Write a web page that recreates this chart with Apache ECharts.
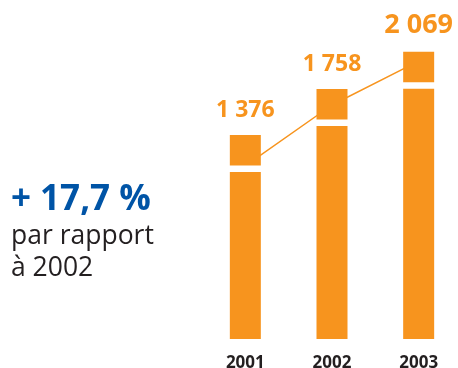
<!DOCTYPE html>
<html>
<head>
<meta charset="utf-8">
<style>
  html, body { margin: 0; padding: 0; background: #fff; }
  #chart { width: 458px; height: 368px; }
</style>
<script src="https://cdn.jsdelivr.net/npm/echarts@6/dist/echarts.min.js"></script>
</head>
<body>
<div id="chart"></div>
<script>
// Yearly totals
const years = ['2001', '2002', '2003'];
const totals = [1376, 1758, 2069];
// Trend line drawn behind the bars
const trend = [1117, 1625, 1991];
// Part of each column below the axis break
const axisBase = 325;

const ORANGE = '#F7941E';
const BLUE = '#0054A6';
const DARK = '#231F20';
const FONT = '"Open Sans", "Noto Sans", sans-serif';

const fmt = v => String(v).replace(/\B(?=(\d{3})+(?!\d))/g, ' ');

const chart = echarts.init(document.getElementById('chart'), null, { renderer: 'canvas' });

const colStyle = { color: ORANGE };

chart.setOption({
  animation: false,
  title: {
    left: 11,
    top: 180,
    padding: 0,
    text: '{a|+ 17,7 %}\n{b|par rapport}\n{b|à 2002}',
    textStyle: {
      rich: {
        a: { fontFamily: FONT, fontWeight: 700, fontSize: 35, color: BLUE, lineHeight: 40 },
        b: { fontFamily: FONT, fontWeight: 400, fontSize: 26.5, color: DARK, lineHeight: 32 }
      }
    }
  },
  grid: {
    left: 202, width: 260, top: 39, height: 300,
    containLabel: false,
    outerBoundsMode: 'none'
  },
  xAxis: {
    type: 'category',
    data: years,
    axisLine: { show: false },
    axisTick: { show: false },
    axisLabel: {
      margin: 16,
      fontFamily: FONT,
      fontWeight: 700,
      fontSize: 17,
      color: DARK
    }
  },
  yAxis: {
    type: 'value',
    min: 0,
    max: 2500,
    show: false,
    splitLine: { show: false }
  },
  series: [
    {
      name: 'trend',
      type: 'line',
      data: trend.map(v => v + axisBase),
      symbol: 'none',
      lineStyle: { color: ORANGE, width: 1.5 },
      z: 1
    },
    {
      name: 'base',
      type: 'bar',
      stack: 'col',
      barWidth: 31,
      data: years.map(() => axisBase),
      itemStyle: colStyle,
      z: 2
    },
    {
      name: 'total',
      type: 'bar',
      stack: 'col',
      barWidth: 31,
      data: totals,
      itemStyle: colStyle,
      z: 2,
      label: {
        show: true,
        position: 'top',
        distance: 13,
        formatter: p => (p.dataIndex === totals.length - 1 ? '{big|' : '{n|') + fmt(p.value) + '}',
        rich: {
          n: { fontFamily: FONT, fontWeight: 700, fontSize: 23, color: ORANGE },
          big: { fontFamily: FONT, fontWeight: 700, fontSize: 27, color: ORANGE }
        }
      }
    },
    {
      // white break band near the top of each column
      name: 'break',
      type: 'custom',
      z: 3,
      silent: true,
      data: totals.map((v, i) => [i, v + axisBase]),
      renderItem: (params, api) => {
        const top = api.coord([api.value(0), api.value(1)]);
        return {
          type: 'rect',
          shape: { x: top[0] - 18, y: top[1] + 30.5, width: 36, height: 6.5 },
          style: { fill: '#fff' }
        };
      }
    }
  ]
});
</script>
</body>
</html>
